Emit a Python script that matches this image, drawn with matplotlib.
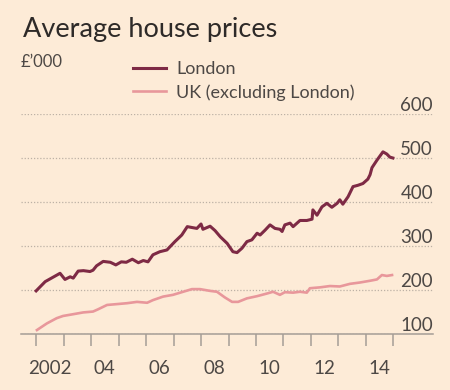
import matplotlib
matplotlib.use('Agg')
import matplotlib.pyplot as plt

plt.rcParams['font.family'] = ['Lato', 'DejaVu Sans']

# London average house price, £'000 (decimal year, value)
london_year = [2002.00, 2002.33, 2002.70, 2002.87, 2003.05, 2003.24, 2003.35, 2003.53, 2003.72, 2003.96,
               2004.07, 2004.20, 2004.44, 2004.70, 2004.90, 2005.10, 2005.28, 2005.50, 2005.72, 2005.90,
               2006.07, 2006.25, 2006.50, 2006.76, 2007.05, 2007.30, 2007.50, 2007.67, 2007.85, 2008.00,
               2008.07, 2008.33, 2008.51, 2008.70, 2008.95, 2009.16, 2009.31, 2009.49, 2009.67, 2009.85,
               2010.04, 2010.15, 2010.33, 2010.51, 2010.69, 2010.87, 2010.95, 2011.05, 2011.24, 2011.35,
               2011.60, 2011.85, 2012.04, 2012.07, 2012.22, 2012.40, 2012.58, 2012.76, 2012.95, 2013.05,
               2013.16, 2013.35, 2013.53, 2013.71, 2013.89, 2014.07, 2014.15, 2014.22, 2014.40, 2014.62,
               2014.76, 2014.87, 2014.98]
london_price = [198, 219, 232, 238, 224, 230, 227, 243, 244, 242,
                245, 255, 265, 263, 257, 264, 263, 270, 262, 267,
                264, 280, 287, 291, 310, 325, 344, 342, 340, 350,
                338, 345, 335, 321, 306, 287, 285, 295, 310, 314,
                329, 325, 336, 348, 340, 338, 333, 348, 352, 344,
                358, 358, 361, 382, 370, 389, 397, 388, 397, 405,
                395, 412, 435, 438, 442, 452, 462, 478, 495, 514,
                509, 502, 500]

# UK excluding London
uk_year = [2002.03, 2002.39, 2002.75, 2002.98, 2003.35, 2003.71, 2004.07, 2004.25, 2004.58, 2004.95,
           2005.31, 2005.67, 2006.04, 2006.25, 2006.62, 2006.98, 2007.35, 2007.67, 2007.96, 2008.33,
           2008.58, 2008.87, 2009.13, 2009.35, 2009.67, 2010.04, 2010.40, 2010.62, 2010.87, 2011.05,
           2011.35, 2011.60, 2011.85, 2011.96, 2012.33, 2012.69, 2013.05, 2013.42, 2013.78, 2014.15,
           2014.40, 2014.58, 2014.76, 2014.95]
uk_price = [109, 124, 136, 141, 145, 149, 151, 156, 166, 168,
            170, 173, 171, 177, 185, 189, 196, 202, 202, 198,
            196, 183, 173, 173, 181, 186, 192, 196, 189, 195,
            194, 196, 194, 204, 206, 209, 208, 214, 217, 221,
            224, 234, 232, 234]

y_ticks = [100, 200, 300, 400, 500, 600]
year_ticks = list(range(2002, 2016))
label_pos = [2002.5, 2004.5, 2006.5, 2008.5, 2010.5, 2012.5, 2014.5]
label_txt = ['2002', '04', '06', '08', '10', '12', '14']

bg = '#fdebd7'
txt = '#4d4845'
grid_c = '#bdb1a5'

fig = plt.figure(figsize=(4.5, 3.9), dpi=100, facecolor=bg)
ax = fig.add_axes([21/450, 1 - 334/390, 412/450, 220/390], facecolor=bg)

ax.plot(uk_year, uk_price, color='#e8979b', lw=1.9, label='UK (excluding London)', zorder=3)
ax.plot(london_year, london_price, color='#7e2a45', lw=2.2, label='London', zorder=4)

ax.set_xlim(2001.45, 2016.44)
ax.set_ylim(100, 600)

# dotted gridlines + labels sitting on top of them
ax.set_yticks(y_ticks)
ax.yaxis.grid(True, linestyle=(0, (1, 1.5)), color=grid_c, lw=0.9)
ax.tick_params(axis='y', length=0, labelleft=False)
for v in y_ticks:
    ax.text(1.0, v, str(v), transform=ax.get_yaxis_transform(), ha='right', va='bottom',
            fontsize=13.5, color=txt)

ax.set_xticks(year_ticks)
ax.set_xticks(label_pos, minor=True)
ax.set_xticklabels([], minor=False)
ax.set_xticklabels(label_txt, minor=True)
ax.tick_params(axis='x', which='major', length=8.5, width=1.1, color='#a59d96', direction='out')
ax.tick_params(axis='x', which='minor', length=0, pad=19, labelsize=13.5, labelcolor=txt)

for s in ['top', 'right', 'left']:
    ax.spines[s].set_visible(False)
ax.spines['bottom'].set_color('#a59d96')
ax.spines['bottom'].set_linewidth(1.1)

fig.text(23/450, 1 - 37/390, 'Average house prices', fontsize=19.5, color='#2e2a28', ha='left', va='baseline')
fig.text(21/450, 1 - 67/390, '£\u2019000', fontsize=12, color=txt, ha='left', va='baseline')

h, l = ax.get_legend_handles_labels()
fig.legend(h[::-1], l[::-1], loc='upper left', bbox_to_anchor=(133/450, 1 - 61/390), frameon=False,
           fontsize=13, labelcolor=txt, handlelength=1.85, handletextpad=0.55, labelspacing=0.4,
           borderpad=0, borderaxespad=0)

fig.savefig('out.png', dpi=100, facecolor=bg)
